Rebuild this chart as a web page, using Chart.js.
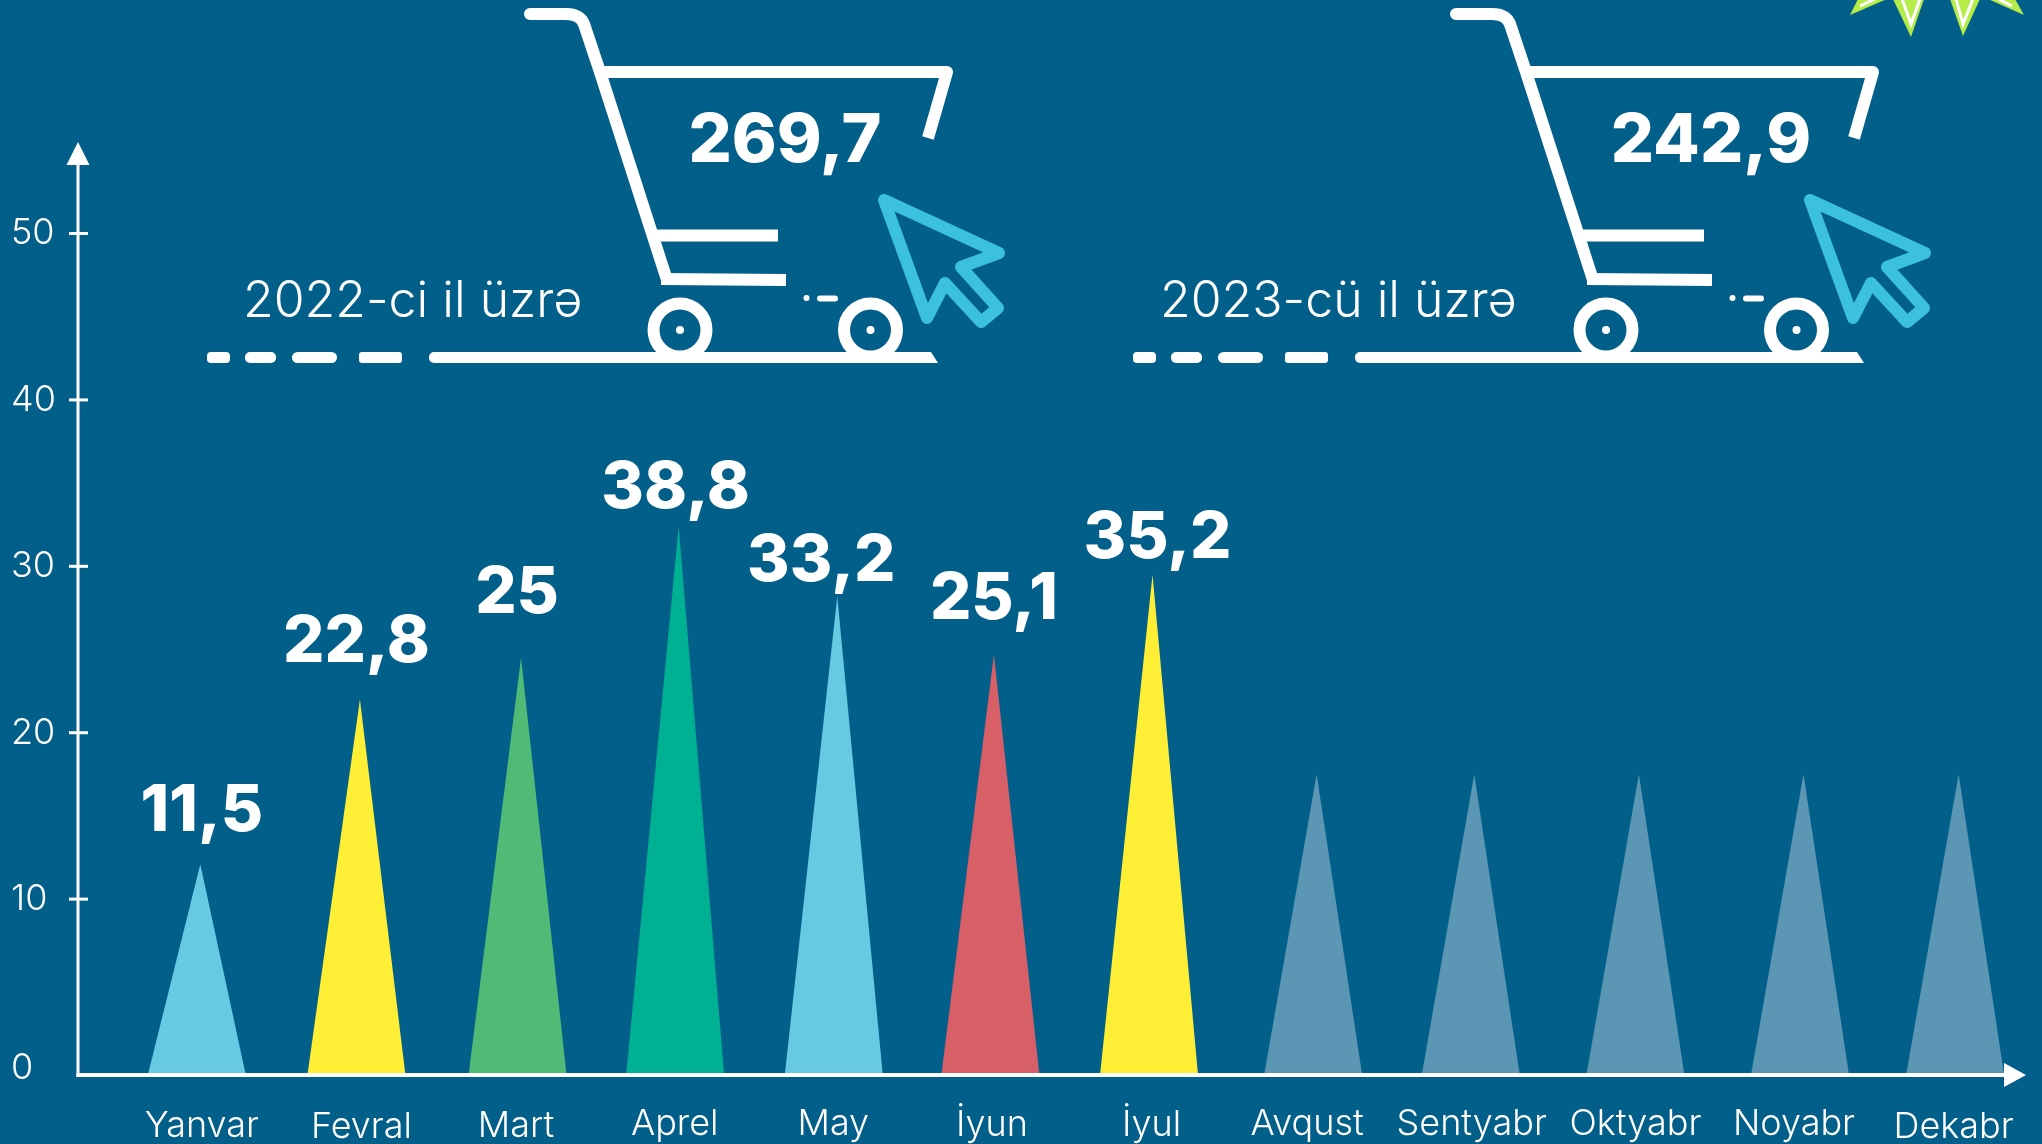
<!DOCTYPE html>
<html><head><meta charset="utf-8">
<style>html,body{margin:0;padding:0;background:#025F8A}canvas{display:block}</style>
<script src="https://cdn.jsdelivr.net/npm/chart.js@4"></script>
</head><body><canvas id="c" width="2042" height="1144"></canvas>
<script>
const months = ['Yanvar','Fevral','Mart','Aprel','May','İyun','İyul','Avqust','Sentyabr','Oktyabr','Noyabr','Dekabr'];
const drawnHeights = [12.1,22,24.5,32.4,28.2,24.7,29.5,17.5,17.5,17.5,17.5,17.5];
const valueLabels = ['11,5','22,8','25','38,8','33,2','25,1','35,2'];
const yTicks = [0,10,20,30,40,50];
const totals = ['269,7','242,9'];
const yearLabels = ['2022-ci il üzrə','2023-cü il üzrə'];

const BG='#025F8A', WHITE='#FFFFFF';
const barColors=['#67CAE3','#FEEF36','#51BA77','#00B092','#67CAE3','#D85F67','#FEEF36','#5B97B5','#5B97B5','#5B97B5','#5B97B5','#5B97B5'];
// hand-placement offsets of the original artwork (pixels)
const barNudge=[0,0,1.5,-0.5,-1.5,-4.5,-5.5,-1,-3,2,7,2.5];
const tickNudge=[[5,1],[5,2],[0,1],[-1,-1],[-2,-1],[-3,0],[-3,0],[-7,-1],[-2,-1],[2,-1],[1,-1],[1,2]];
const labelShift=[[5,-53],[0,-57],[1,-64],[0,-38],[-14,-35],[-1,-55],[3,-36]];
const FAMILY='Inter, "Open Sans", sans-serif';
const LIGHT='300 %px '+FAMILY;
const BOLD='800 %px '+FAMILY;
const Y_MIN=-0.57, Y_MAX=55.5;

Chart.BarElement.prototype.draw=function(ctx){
  const x=this.x+barNudge[this.$context.dataIndex];
  ctx.save();ctx.fillStyle=this.options.backgroundColor;
  ctx.beginPath();
  ctx.moveTo(x-this.width/2,this.base);
  ctx.lineTo(x+3.5,this.y);
  ctx.lineTo(x+this.width/2,this.base);
  ctx.closePath();ctx.fill();ctx.restore();
};

function poly(ctx,pts,close){ctx.beginPath();pts.forEach((p,i)=>i?ctx.lineTo(p[0],p[1]):ctx.moveTo(p[0],p[1]));if(close)ctx.closePath();}

function drawCart(ctx,dx,total,year,textX){
  ctx.save();ctx.translate(dx,0);
  ctx.strokeStyle=WHITE;ctx.fillStyle=WHITE;ctx.lineWidth=12;ctx.lineJoin='round';
  // handle
  ctx.lineCap='round';ctx.beginPath();ctx.moveTo(530,14);ctx.lineTo(566,14);
  ctx.quadraticCurveTo(580,14,584,24);ctx.stroke();
  // stem
  ctx.lineCap='butt';
  ctx.beginPath();ctx.moveTo(584,24);ctx.lineTo(600,72);ctx.lineTo(667,280);ctx.stroke();
  // basket
  ctx.lineJoin='round';
  ctx.beginPath();ctx.moveTo(602,72);ctx.lineTo(947,72);ctx.lineTo(928,138);ctx.stroke();
  // shelves
  ctx.beginPath();ctx.moveTo(652,235.5);ctx.lineTo(778,235.5);ctx.stroke();
  ctx.beginPath();ctx.moveTo(661,279);ctx.lineTo(786,280);ctx.stroke();
  // wheels
  [680,870.5].forEach(x=>{
    ctx.beginPath();ctx.arc(x,330,26.5,0,Math.PI*2);ctx.stroke();
    ctx.beginPath();ctx.arc(x,330,4,0,Math.PI*2);ctx.fill();
  });
  // ground
  ctx.beginPath();ctx.roundRect(429,352,40,11,5);ctx.fill();
  poly(ctx,[[440,352],[931,352],[938,363],[440,363]],true);ctx.fill();
  [[207,230,4],[245,276,5],[292,337,5.5],[359,402,3]].forEach(d=>{ctx.beginPath();ctx.roundRect(d[0],352,d[1]-d[0],11,d[2]);ctx.fill();});
  ctx.beginPath();ctx.arc(806.5,298,3,0,Math.PI*2);ctx.fill();
  ctx.beginPath();ctx.roundRect(817,295.5,21,6,3);ctx.fill();
  // cursor
  ctx.strokeStyle='#3CC0E0';ctx.lineWidth=12;
  poly(ctx,[[884,200],[999,253],[961,267],[998,308],[981,322],[945,283],[927,318]],true);ctx.stroke();
  // total
  ctx.fillStyle=WHITE;ctx.font=BOLD.replace('%',68);ctx.textAlign='center';ctx.textBaseline='alphabetic';
  ctx.fillText(total,785,162);
  ctx.restore();
  ctx.fillStyle=WHITE;ctx.font=LIGHT.replace('%',50);ctx.textAlign='left';
  ctx.fillText(year,textX,317);
}

function drawSun(ctx){
  const spikes=[
    [[1858,-1],[1850,15],[1887,-1]],
    [[1893,-1],[1911,37],[1924,-1]],
    [[1950,-1],[1963,36],[1980,-1]],
    [[1988,-1],[2024,15],[2015,-1]]];
  const inner=[
    [[1860,6],[1875,-1]],
    [[1902,-1],[1911,24],[1920,-1]],
    [[1956,-1],[1963,24],[1973,-1]],
    [[1998,-1],[2012,6]]];
  ctx.save();ctx.fillStyle='#B5EC4A';ctx.strokeStyle=WHITE;ctx.lineWidth=3;
  spikes.forEach(s=>{poly(ctx,s,true);ctx.fill();});
  inner.forEach(s=>{poly(ctx,s,false);ctx.stroke();});
  ctx.restore();
}

const decor={
  id:'decor',
  beforeDraw(chart){
    const xs=chart.scales.x,ys=chart.scales.y;
    xs.getLabelItems(chart.chartArea).forEach((it,i)=>{
      it.options.translation=[it.options.translation[0]+tickNudge[i][0],it.options.translation[1]+tickNudge[i][1]];
    });
    ys.getLabelItems(chart.chartArea).forEach((it,i)=>{
      if(i===0)it.options.translation=[it.options.translation[0],it.options.translation[1]+3];
    });
  },
  beforeDatasetsDraw(chart){
    const ctx=chart.ctx;
    drawSun(ctx);
    drawCart(ctx,0,totals[0],yearLabels[0],243);
    drawCart(ctx,926,totals[1],yearLabels[1],1160);
  },
  afterDatasetsDraw(chart){
    const ctx=chart.ctx,y=chart.scales.y,AX=78,base=y.getPixelForValue(Y_MIN),top=y.getPixelForValue(Y_MAX);
    ctx.save();
    ctx.strokeStyle=WHITE;ctx.fillStyle=WHITE;
    ctx.lineWidth=3;ctx.beginPath();ctx.moveTo(AX,base+2);ctx.lineTo(AX,top+20);ctx.stroke();
    poly(ctx,[[AX,top],[AX+11.5,top+23],[AX-11.5,top+23]],true);ctx.fill();
    ctx.lineWidth=4;ctx.beginPath();ctx.moveTo(AX-1.5,base);ctx.lineTo(2008,base);ctx.stroke();
    poly(ctx,[[2026,base],[2004,base-12],[2004,base+12]],true);ctx.fill();
    ctx.lineWidth=3;
    yTicks.slice(1).forEach(v=>{const p=y.getPixelForValue(v);ctx.beginPath();ctx.moveTo(AX-9,p);ctx.lineTo(AX+10,p);ctx.stroke();});
    // value labels
    const meta=chart.getDatasetMeta(0);
    ctx.font=BOLD.replace('%',65);ctx.textAlign='center';ctx.textBaseline='middle';
    valueLabels.forEach((t,i)=>{const b=meta.data[i];ctx.fillText(t,b.x+labelShift[i][0],b.y+labelShift[i][1]);});
    ctx.restore();
  }
};

new Chart(document.getElementById('c'),{
  type:'bar',
  data:{labels:months,datasets:[{data:drawnHeights,base:Y_MIN,backgroundColor:barColors,barThickness:98}]},
  plugins:[decor],
  options:{
    responsive:false,animation:false,
    layout:{padding:{left:11,right:7,top:142,bottom:0}},
    plugins:{legend:{display:false},tooltip:{enabled:false}},
    scales:{
      x:{type:'category',grid:{display:false,drawTicks:false},border:{display:false},
        afterFit(s){s.height=69;},
        ticks:{color:WHITE,font:{family:FAMILY,size:36,weight:'300'},padding:29,maxRotation:0,autoSkip:false}},
      y:{min:Y_MIN,max:Y_MAX,grid:{display:false,drawTicks:false},border:{display:false},
        afterBuildTicks(s){s.ticks=yTicks.map(v=>({value:v}));},
        afterFit(s){s.width=106;},
        ticks:{color:WHITE,crossAlign:'far',font:{family:FAMILY,size:36,weight:'300'}}}
    }
  }
});
</script></body></html>
